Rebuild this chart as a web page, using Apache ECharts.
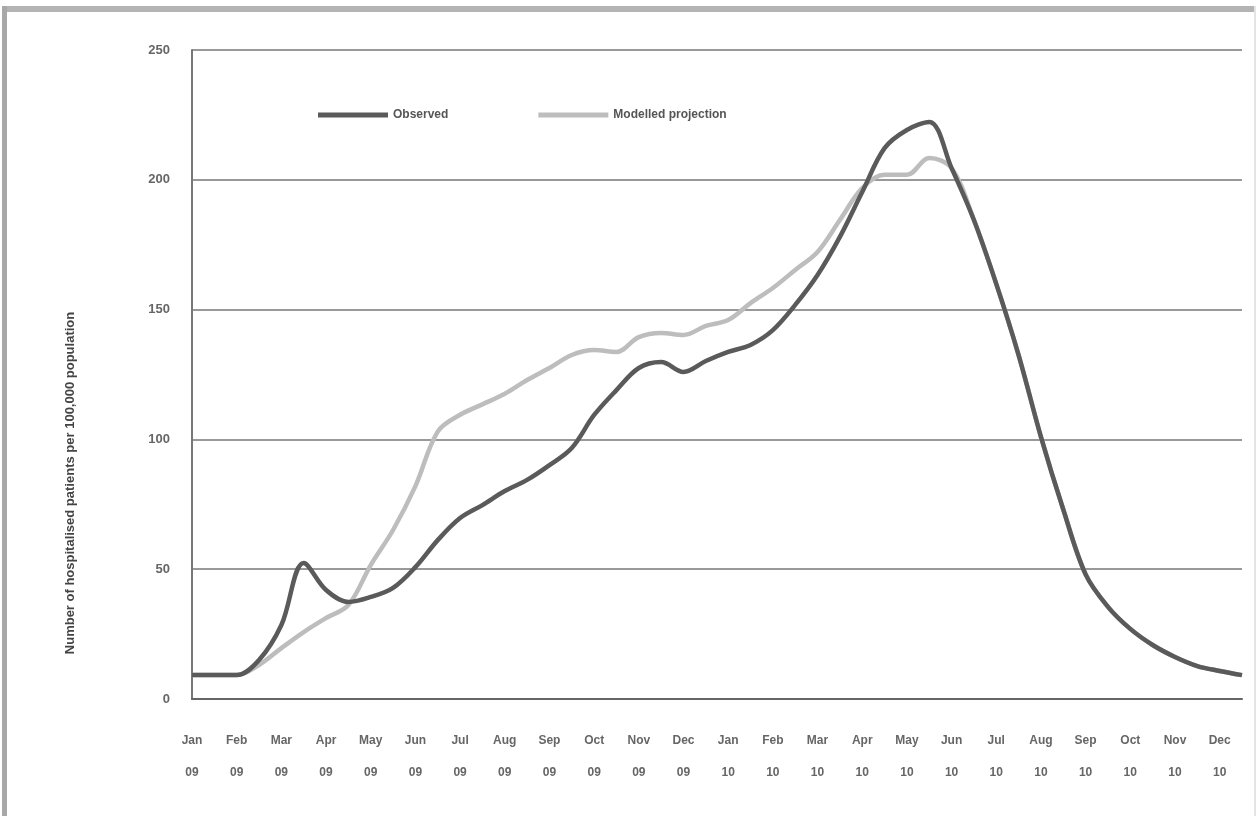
<!DOCTYPE html>
<html>
<head>
<meta charset="utf-8">
<script src="https://cdn.jsdelivr.net/npm/echarts@6/dist/echarts.min.js"></script>
<style>
  html, body { margin: 0; padding: 0; background: #ffffff; }
  #chart { width: 1259px; height: 816px; }
</style>
</head>
<body>
<div id="chart"></div>
<script>
// Point index (x positions are categories; labels shown on every second point)
const months = ['Jan','Feb','Mar','Apr','May','Jun','Jul','Aug','Sep','Oct','Nov','Dec',
                'Jan','Feb','Mar','Apr','May','Jun','Jul','Aug','Sep','Oct','Nov','Dec'];
const years = ['09','09','09','09','09','09','09','09','09','09','09','09',
               '10','10','10','10','10','10','10','10','10','10','10','10'];

const observed = [9.2, 9.2, 9.2, 15.0, 28.5, 52.4, 42.0, 37.4, 39.3, 42.8, 50.8, 61.2,
  69.7, 74.7, 80.1, 84.4, 90.1, 96.7, 109.4, 119.0, 127.5, 129.8, 126.0, 130.2,
  133.7, 136.4, 142.1, 151.8, 163.3, 178.0, 195.3, 212.2, 219.2, 222.3, 204.5, 184.5,
  159.9, 132.5, 101.0, 73.0, 48.0, 35.5, 27.0, 20.8, 16.2, 12.7, 10.8, 9.2];

const modelled = [9.2, 9.2, 9.2, 13.1, 19.6, 25.8, 31.2, 36.2, 51.6, 65.1, 82.0, 103.0,
  109.5, 113.5, 117.6, 122.9, 127.5, 132.5, 134.4, 133.7, 139.4, 141.0, 140.2, 143.7,
  146.0, 152.5, 158.3, 165.3, 172.2, 184.5, 196.8, 201.9, 201.9, 208.4, 204.5, 184.5,
  159.9, 132.5, 101.0, 73.0, 48.0, 35.5, 27.0, 20.8, 16.2, 12.7, 10.8, 9.2];

const yTicks = { min: 0, max: 250, interval: 50 };
const seriesNames = ['Observed', 'Modelled projection'];
const yTitle = 'Number of hospitalised patients per 100,000 population';

// build category list: one label every second point
const categories = [];
for (let i = 0; i < observed.length; i++) {
  const k = Math.floor(i / 2);
  categories.push(i % 2 === 0 && k < months.length ? months[k] + '\n' + years[k] : '');
}

const chart = echarts.init(document.getElementById('chart'), null, { renderer: 'canvas' });
chart.setOption({
  backgroundColor: '#ffffff',
  animation: false,
  graphic: [
    { type: 'rect', shape: { x: 2, y: 6, width: 1254, height: 6 }, style: { fill: '#b4b4b4' }, z: 10 },
    { type: 'rect', shape: { x: 2, y: 6, width: 5, height: 810 }, style: { fill: '#a8a8a8' }, z: 10 },
    { type: 'rect', shape: { x: 1254, y: 6, width: 2, height: 810 }, style: { fill: '#e4e4e4' }, z: 10 },
    {
      type: 'text', x: 70, y: 483, rotation: Math.PI / 2,
      style: { text: yTitle, font: 'bold 13px "Liberation Sans", Arial, sans-serif', fill: '#444',
               textAlign: 'center', textVerticalAlign: 'middle' }
    }
  ],
  legend: {
    left: 313, top: 104,
    icon: 'rect', itemWidth: 70, itemHeight: 5, itemGap: 90,
    data: [seriesNames[0], seriesNames[1]],
    textStyle: { color: '#555', fontSize: 12, fontWeight: 'bold', fontFamily: 'Liberation Sans, Arial, sans-serif' }
  },
  grid: { left: 192, right: 17, top: 50, bottom: 117, containLabel: false },
  xAxis: {
    type: 'category', data: categories, boundaryGap: false,
    axisLine: { show: true, lineStyle: { color: '#666', width: 2 } },
    axisTick: { show: false },
    axisLabel: { interval: 0, margin: 26, lineHeight: 32, color: '#666', fontSize: 12, fontWeight: 'bold',
                 fontFamily: 'Liberation Sans, Arial, sans-serif' },
    splitLine: { show: false }
  },
  yAxis: {
    type: 'value', min: yTicks.min, max: yTicks.max, interval: yTicks.interval,
    axisLine: { show: true, lineStyle: { color: '#777', width: 2 } },
    axisTick: { show: false },
    axisLabel: { margin: 22, color: '#666', fontSize: 13, fontWeight: 'bold',
                 fontFamily: 'Liberation Sans, Arial, sans-serif' },
    splitLine: { show: true, lineStyle: { color: '#999', width: 2 } }
  },
  series: [
    {
      name: seriesNames[1], type: 'line', data: modelled, smooth: 0.35, symbol: 'none',
      lineStyle: { color: '#bdbdbd', width: 4.5 }, itemStyle: { color: '#bdbdbd' }, z: 2
    },
    {
      name: seriesNames[0], type: 'line', data: observed, smooth: 0.35, symbol: 'none',
      lineStyle: { color: '#5a5a5a', width: 4.5 }, itemStyle: { color: '#5a5a5a' }, z: 3
    }
  ]
});
</script>
</body>
</html>
